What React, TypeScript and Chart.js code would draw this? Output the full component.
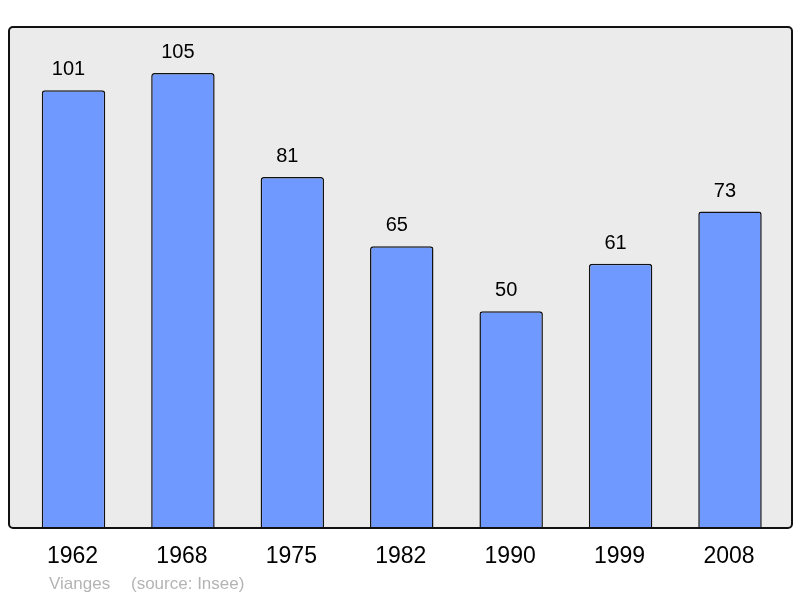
import React, { useEffect, useRef } from "react";
import { Chart, registerables } from "chart.js";

Chart.register(...registerables);

const years = ["1962", "1968", "1975", "1982", "1990", "1999", "2008"];
const population = [101, 105, 81, 65, 50, 61, 73];
const commune = "Vianges";
const source = "(source: Insee)";

const FONT = "'Liberation Sans', Arial, sans-serif";

const framePlugin = {
  id: "frame",
  beforeDraw(chart: any) {
    const ctx = chart.ctx;
    const { bottom } = chart.chartArea;
    const x0 = 9, y0 = 27, x1 = 792, y1 = bottom;
    ctx.save();
    ctx.beginPath();
    if (ctx.roundRect) ctx.roundRect(x0, y0, x1 - x0, y1 - y0, 4);
    else ctx.rect(x0, y0, x1 - x0, y1 - y0);
    ctx.fillStyle = "#ebebeb";
    ctx.fill();
    ctx.restore();
  },
  afterDatasetsDraw(chart: any) {
    const ctx = chart.ctx;
    const { bottom } = chart.chartArea;
    const x0 = 9, y0 = 27, x1 = 792, y1 = bottom;
    ctx.save();
    ctx.beginPath();
    if (ctx.roundRect) ctx.roundRect(x0, y0, x1 - x0, y1 - y0, 4);
    else ctx.rect(x0, y0, x1 - x0, y1 - y0);
    ctx.lineWidth = 2;
    ctx.strokeStyle = "#111";
    ctx.stroke();

    const meta = chart.getDatasetMeta(0);
    const xScale = chart.scales.x;
    ctx.fillStyle = "#000";
    ctx.textAlign = "center";
    ctx.textBaseline = "alphabetic";
    ctx.font = `20px ${FONT}`;
    meta.data.forEach((bar: any, i: number) => {
      ctx.fillText(String(population[i]), bar.x - 5, bar.y - 15);
    });
    ctx.font = `23px ${FONT}`;
    ctx.textBaseline = "middle";
    years.forEach((y, i) => {
      ctx.fillText(y, xScale.getPixelForValue(i) - 1, bottom + 29);
    });
    ctx.font = `17px ${FONT}`;
    ctx.fillStyle = "#b4b4b4";
    ctx.textAlign = "left";
    ctx.fillText(commune, 49, bottom + 56);
    ctx.fillText(source, 131, bottom + 56);
    ctx.restore();
  },
};

export default function App() {
  const ref = useRef<HTMLCanvasElement>(null);
  useEffect(() => {
    if (!ref.current) return;
    const chart = new Chart(ref.current, {
      type: "bar",
      data: {
        labels: years,
        datasets: [
          {
            data: population,
            backgroundColor: "#7099ff",
            borderColor: "#111",
            borderWidth: 1.5,
            borderRadius: 3,
            borderSkipped: "bottom",
            barPercentage: 0.58,
            categoryPercentage: 1,
          },
        ],
      },
      options: {
        responsive: false,
        animation: false,
        devicePixelRatio: 1,
        layout: { padding: { left: 18.8, right: 15.3, top: 27, bottom: 70 } },
        plugins: { legend: { display: false }, tooltip: { enabled: false } },
        scales: {
          x: { display: false, offset: true },
          y: { display: false, min: 0, max: 115.6 },
        },
      },
      plugins: [framePlugin],
    });
    return () => chart.destroy();
  }, []);
  return (
    <div style={{ position: "absolute", left: 0, top: 0, width: 800, height: 598, background: "#fff" }}>
      <canvas ref={ref} width={800} height={598} />
    </div>
  );
}
